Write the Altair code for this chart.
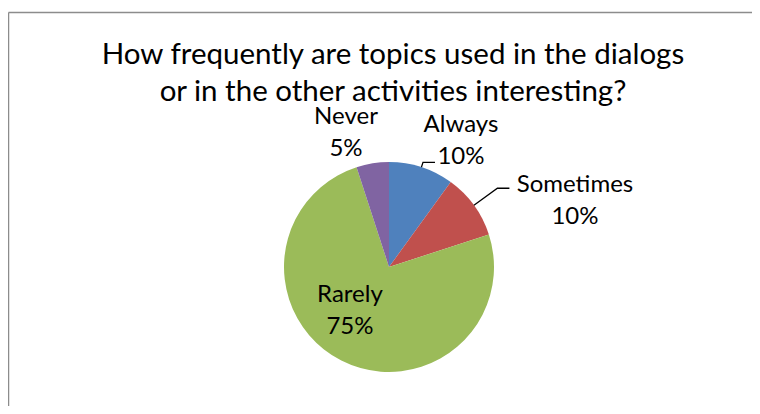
import altair as alt
import numpy as np
import pandas as pd

# ---- data ----
categories = ["Always", "Sometimes", "Rarely", "Never"]
percents = [10, 10, 75, 5]
colors = ["#4F81BD", "#C0504D", "#9BBB59", "#8064A2"]
title_lines = [
    "How frequently are topics used in the dialogs",
    "or in the other activities interesting?",
]

# ---- layout ----
W, H = 744, 288
PAD_TOP = 110
CX, CY = 381, 149
R = 105
FONT = "Lato"

df = pd.DataFrame({"category": categories, "percent": percents, "idx": range(len(categories))})
df["label"] = df["category"] + "\n" + df["percent"].astype(str) + "%"
df["mid"] = df["percent"].cumsum() - df["percent"] / 2

ts = alt.Scale(domain=[0, 100])

pie = alt.Chart(df).mark_arc(outerRadius=R).encode(
    theta=alt.Theta("percent:Q", stack=True, scale=ts),
    order=alt.Order("idx:Q"),
    color=alt.Color("category:N", scale=alt.Scale(domain=categories, range=colors), legend=None),
    x=alt.value(CX),
    y=alt.value(CY),
)

# label placement: (radius, dx, dy)
label_layout = {
    "Always": (140, 28.7, -1.9),
    "Sometimes": (140, 72.7, 7.3),
    "Never": (140, -21.1, -4.5),
    "Rarely": (60, -11.8, -18.5),
}
texts = []
for cat, (r, dx, dy) in label_layout.items():
    texts.append(
        alt.Chart(df)
        .transform_filter(alt.datum.category == cat)
        .mark_text(radius=r, dx=dx, dy=dy, font=FONT, fontSize=24, lineBreak="\n",
                   lineHeight=32, align="center", baseline="alphabetic", color="black")
        .encode(
            theta=alt.Theta("mid:Q", stack=None, scale=ts),
            text="label:N",
            x=alt.value(CX),
            y=alt.value(CY),
        )
    )

# leader lines computed from slice geometry
leader_radius = {"Always": 110, "Sometimes": 134}
rows = []
for cat, rel in leader_radius.items():
    m = float(df.loc[df["category"] == cat, "mid"].iloc[0])
    a = m / 100 * 2 * np.pi
    sx, sy = CX + R * np.sin(a), CY - R * np.cos(a)
    ex, ey = CX + rel * np.sin(a), CY - rel * np.cos(a)
    rows += [
        {"category": cat, "step": 0, "px": sx, "py": sy},
        {"category": cat, "step": 1, "px": ex, "py": ey},
        {"category": cat, "step": 2, "px": ex + 12, "py": ey},
    ]
lead_df = pd.DataFrame(rows)
leaders = alt.Chart(lead_df).mark_line(color="black", strokeWidth=1.3).encode(
    x=alt.X("px:Q", scale=None, axis=None),
    y=alt.Y("py:Q", scale=None, axis=None),
    detail="category:N",
    order="step:Q",
)

border_df = pd.DataFrame({"a": [0]})
left_border = alt.Chart(border_df).mark_rule(color="#8c8c8c", strokeWidth=1.5).encode(
    x=alt.value(0.5), y=alt.value(-PAD_TOP + 4.5), y2=alt.value(H + 10)
)
top_border = alt.Chart(border_df).mark_rule(color="#8c8c8c", strokeWidth=1.5).encode(
    x=alt.value(0.5), x2=alt.value(W + 10), y=alt.value(-PAD_TOP + 4.5)
)

chart = alt.layer(left_border, top_border, pie, leaders, *texts).properties(
    width=W,
    height=H,
    padding={"top": PAD_TOP, "left": 0, "right": 0, "bottom": 0},
    autosize="none",
    title=alt.TitleParams(
        text=title_lines, font=FONT, fontSize=29.5, fontWeight="normal", color="black",
        anchor="middle", lineHeight=37, offset=14, dx=13, dy=110,
    ),
).configure_view(stroke=None)

chart.save("out.html", embed_options={"renderer": "svg", "actions": False})
